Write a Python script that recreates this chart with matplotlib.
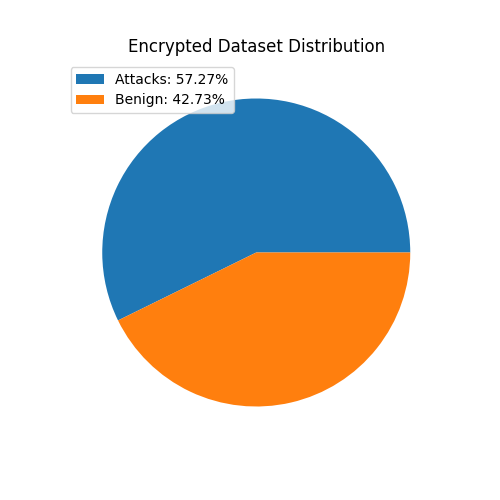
import matplotlib
matplotlib.use("Agg")
import matplotlib.pyplot as plt

categories = ["Attacks", "Benign"]
percentages = [57.27, 42.73]

fig, ax = plt.subplots(figsize=(5, 5), dpi=100)
wedges, _ = ax.pie(percentages)
labels = [f"{c}: {p:.2f}%" for c, p in zip(categories, percentages)]
ax.legend(wedges, labels, loc="upper left")
ax.set_title("Encrypted Dataset Distribution")
fig.savefig("out.png")
